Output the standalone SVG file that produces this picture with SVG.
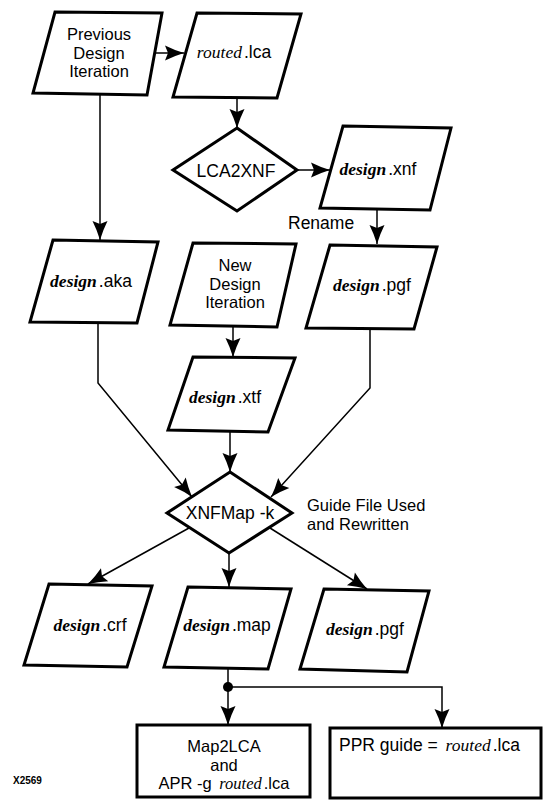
<svg xmlns="http://www.w3.org/2000/svg" width="545" height="801" viewBox="0 0 545 801">
  <style>
    .shape { fill: #fff; stroke: #000; stroke-width: 3; stroke-linejoin: miter; }
    .conn { fill: none; stroke: #000; stroke-width: 1.5; }
    .t { font-family: "Liberation Sans", Arial, sans-serif; font-size: 17.5px; fill: #000; }
    .m { font-size: 16.5px; }
    .v { font-family: "Liberation Serif", "Times New Roman", serif; font-style: italic; }
    .vb { font-family: "Liberation Serif", "Times New Roman", serif; font-style: italic; font-weight: bold; }
    .c { text-anchor: middle; }
  </style>
  <defs>
    <marker id="arrow" markerUnits="userSpaceOnUse" markerWidth="22" markerHeight="18" viewBox="-20 -9 22 18" refX="0" refY="0" orient="auto">
      <path d="M0,0 Q-10,-3 -19,-7.5 L-16,0 L-19,7.5 Q-10,3 0,0 Z" fill="#000"/>
    </marker>
  </defs>

  <rect width="545" height="801" fill="#fff"/>

  <!-- connectors -->
  <g id="connectors" class="conn">
    <path d="M152,53 H184" marker-end="url(#arrow)"/>
    <path d="M237,98 V128" marker-end="url(#arrow)"/>
    <path d="M297,170 H330" marker-end="url(#arrow)"/>
    <path d="M377,210 V244" marker-end="url(#arrow)"/>
    <path d="M100,95 V240" marker-end="url(#arrow)"/>
    <path d="M233,327 V357" marker-end="url(#arrow)"/>
    <path d="M98,323 V383 L192,497" marker-end="url(#arrow)"/>
    <path d="M370,329 V388 L271,497" marker-end="url(#arrow)"/>
    <path d="M230,432 V472" marker-end="url(#arrow)"/>
    <path d="M189,528 L88,584" marker-end="url(#arrow)"/>
    <path d="M229,553 V587" marker-end="url(#arrow)"/>
    <path d="M270,528 L367,589" marker-end="url(#arrow)"/>
    <path d="M228,668 V725" marker-end="url(#arrow)"/>
    <path d="M228,687 H442 V728" marker-end="url(#arrow)"/>
    <circle cx="228" cy="687" r="5" fill="#000" stroke="none"/>
  </g>

  <!-- nodes -->
  <g id="previous-iteration">
    <polygon class="shape" points="55,12 162,13 147,95 33,93"/>
    <text class="t m c" x="99" y="40">Previous</text>
    <text class="t m c" x="99" y="58.5">Design</text>
    <text class="t m c" x="99" y="77">Iteration</text>
  </g>

  <g id="routed-lca">
    <polygon class="shape" points="197,13 301,14 277,98 173,97"/>
    <text class="t c" x="234" y="58"><tspan class="v">routed</tspan><tspan dx="2">.lca</tspan></text>
  </g>

  <g id="lca2xnf">
    <polygon class="shape" points="237,128 297,170 237,211 173,170"/>
    <text class="t c" x="236" y="177">LCA2XNF</text>
  </g>

  <g id="design-xnf">
    <polygon class="shape" points="343,126 451,128 430,210 320,208"/>
    <text class="t c" x="378" y="175"><tspan class="vb">design</tspan><tspan dx="2">.xnf</tspan></text>
  </g>

  <text id="rename-label" class="t" x="288" y="229">Rename</text>

  <g id="design-aka">
    <polygon class="shape" points="53,240 158,242 137,323 30,322"/>
    <text class="t c" x="91" y="287"><tspan class="vb">design</tspan><tspan dx="2">.aka</tspan></text>
  </g>

  <g id="new-iteration">
    <polygon class="shape" points="193,243 296,244 277,327 170,325"/>
    <text class="t m c" x="235" y="271">New</text>
    <text class="t m c" x="235" y="289.5">Design</text>
    <text class="t m c" x="235" y="308">Iteration</text>
  </g>

  <g id="design-pgf-in">
    <polygon class="shape" points="330,245 437,247 414,329 306,328"/>
    <text class="t c" x="372" y="291"><tspan class="vb">design</tspan><tspan dx="2">.pgf</tspan></text>
  </g>

  <g id="design-xtf">
    <polygon class="shape" points="193,357 295,358 268,432 168,430"/>
    <text class="t c" x="225" y="403"><tspan class="vb">design</tspan><tspan dx="2">.xtf</tspan></text>
  </g>

  <g id="xnfmap">
    <polygon class="shape" points="230,472 292,513 229,553 167,513"/>
    <text class="t c" x="230" y="519">XNFMap -k</text>
  </g>

  <g id="guide-note">
    <text class="t m" x="307" y="511">Guide File Used</text>
    <text class="t m" x="307" y="529.5">and Rewritten</text>
  </g>

  <g id="design-crf">
    <polygon class="shape" points="49,584 152,586 127,667 24,665"/>
    <text class="t c" x="90" y="631"><tspan class="vb">design</tspan><tspan dx="2">.crf</tspan></text>
  </g>

  <g id="design-map">
    <polygon class="shape" points="188,587 291,589 268,669 164,667"/>
    <text class="t c" x="227" y="631"><tspan class="vb">design</tspan><tspan dx="2">.map</tspan></text>
  </g>

  <g id="design-pgf-out">
    <polygon class="shape" points="324,589 429,591 407,672 300,669"/>
    <text class="t c" x="365" y="635"><tspan class="vb">design</tspan><tspan dx="2">.pgf</tspan></text>
  </g>

  <g id="map2lca">
    <rect class="shape" x="137" y="725" width="173" height="72"/>
    <text class="t m c" x="224" y="752">Map2LCA</text>
    <text class="t m c" x="224" y="770.5">and</text>
    <text class="t m c" x="224" y="789">APR -g <tspan class="v" dx="3">routed</tspan><tspan dx="2">.lca</tspan></text>
  </g>

  <g id="ppr-guide">
    <rect class="shape" x="330" y="728" width="211" height="70"/>
    <text class="t" x="339" y="751">PPR guide = <tspan class="v" dx="3">routed</tspan><tspan dx="2">.lca</tspan></text>
  </g>

  <text id="figure-id" x="13" y="784" font-family="Liberation Sans, Arial, sans-serif" font-size="10" font-weight="bold">X2569</text>
</svg>
